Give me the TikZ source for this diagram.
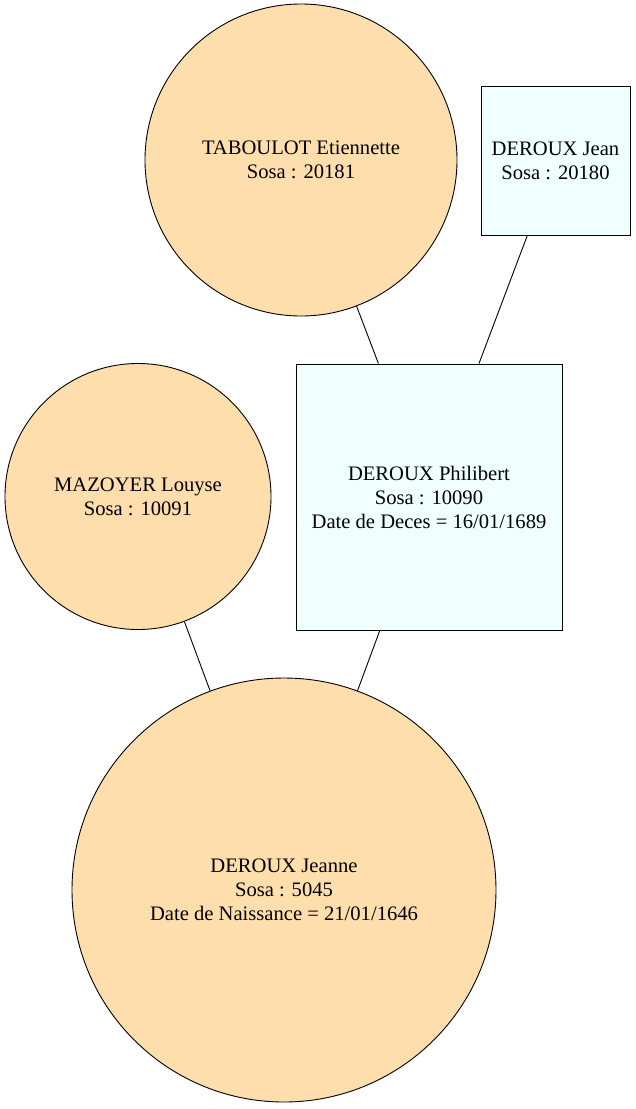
\documentclass[tikz,border=0pt]{standalone}
\usepackage{fontspec}
\setmainfont{Liberation Serif}
\usepackage{tikz}
\usetikzlibrary{positioning}
\definecolor{womanfill}{RGB}{255,222,173}
\definecolor{manfill}{RGB}{240,255,255}

\begin{document}
\begin{tikzpicture}[x=1pt, y=-1pt,
    person/.style={draw, line width=0.9pt, inner sep=0pt, align=center,
      font=\fontsize{20.6}{24}\selectfont},
    woman/.style={person, circle, fill=womanfill},
    man/.style={person, rectangle, fill=manfill}]
  \useasboundingbox (0,0) rectangle (636,1109);

  \node[woman, minimum size=312pt] (etiennette) at (301, 160) {TABOULOT Etiennette\\Sosa : 20181};
  \node[man, minimum width=149pt, minimum height=149pt] (jean) at (555.5, 160.5) {DEROUX Jean\\Sosa : 20180};
  \node[man, minimum width=266pt, minimum height=266pt] (philibert) at (429, 497) {DEROUX Philibert\\Sosa : 10090\\Date de Deces = 16/01/1689};
  \node[woman, minimum size=266pt] (louyse) at (138, 496.5) {MAZOYER Louyse\\Sosa : 10091};
  \node[woman, minimum size=424pt] (jeanne) at (284, 890) {DEROUX Jeanne\\Sosa : 5045\\Date de Naissance = 21/01/1646};

  \draw[line width=0.9pt] (etiennette) -- (philibert);
  \draw[line width=0.9pt] (jean) -- (philibert);
  \draw[line width=0.9pt] (louyse) -- (jeanne);
  \draw[line width=0.9pt] (philibert) -- (jeanne);
\end{tikzpicture}
\end{document}
